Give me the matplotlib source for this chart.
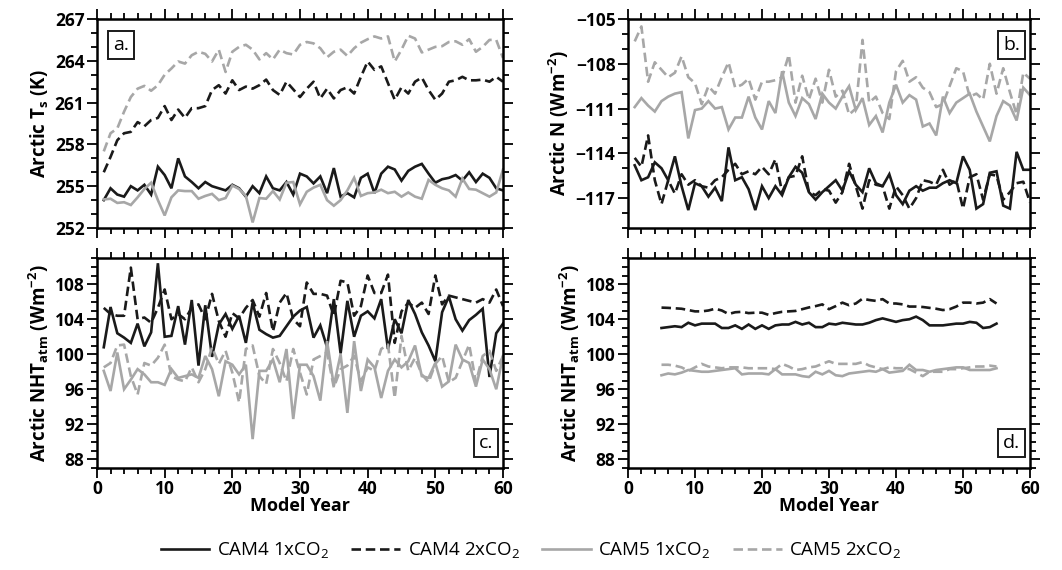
import matplotlib
matplotlib.use("Agg")
import matplotlib.pyplot as plt
from matplotlib.ticker import MultipleLocator
import numpy as np

plt.rcParams['font.family'] = ['Open Sans', 'DejaVu Sans']
plt.rcParams['mathtext.fontset'] = 'custom'
plt.rcParams['mathtext.rm'] = 'Open Sans'
plt.rcParams['mathtext.bf'] = 'Open Sans:bold'

years = list(range(1, 61))
years_smooth = list(range(5, 56))

# Panel a: Arctic Ts (K)
ts_cam4_1x = [254.0, 254.85, 254.4, 254.25, 255.0, 254.7, 255.1, 254.4, 256.4, 255.8,
              254.85, 257.0, 255.7, 255.3, 254.85, 255.3, 255.0, 254.85, 254.7, 255.1,
              254.85, 254.25, 255.0, 254.5, 255.7, 254.85, 254.7, 255.3, 254.4, 255.9,
              255.7, 255.2, 255.7, 254.5, 256.3, 254.25, 254.5, 254.2, 255.6, 255.9,
              254.5, 255.9, 256.4, 256.2, 255.4, 256.1, 256.4, 256.6, 255.9, 255.25,
              255.5, 255.6, 255.8, 255.4, 256.0, 255.3, 255.9, 255.6, 254.85, 254.7]
ts_cam4_2x = [256.0, 257.1, 258.3, 258.8, 258.9, 259.6, 259.3, 259.75, 259.9, 260.75,
              259.75, 260.5, 259.9, 260.6, 260.6, 260.75, 261.9, 262.25, 261.65, 262.6,
              261.9, 262.15, 262.0, 262.25, 262.65, 261.9, 261.55, 262.5, 261.95, 261.4,
              262.0, 262.5, 261.3, 262.0, 261.3, 261.9, 262.1, 261.65, 262.85, 263.95,
              263.35, 263.6, 262.4, 261.2, 262.1, 261.65, 262.5, 262.8, 261.9, 261.2,
              261.65, 262.5, 262.6, 262.85, 262.6, 262.6, 262.65, 262.5, 262.85, 262.5]
ts_cam5_1x = [254.05, 254.1, 253.8, 253.85, 253.65, 254.2, 254.8, 255.25, 254.0, 252.9,
              254.2, 254.7, 254.65, 254.65, 254.1, 254.3, 254.45, 254.0, 254.15, 255.05,
              254.8, 254.3, 252.4, 254.15, 254.1, 254.65, 254.05, 255.25, 255.3, 253.7,
              254.6, 254.9, 255.1, 254.0, 253.6, 254.0, 254.7, 255.6, 254.3, 254.5,
              254.55, 254.75, 254.5, 254.6, 254.25, 254.55, 254.25, 254.1, 255.45, 255.1,
              254.85, 254.7, 254.25, 255.55, 254.8, 254.75, 254.5, 254.25, 254.55, 256.2]
ts_cam5_2x = [257.5, 258.8, 259.15, 260.35, 261.4, 262.0, 262.2, 261.85, 262.25, 263.0,
              263.45, 263.95, 263.8, 264.4, 264.65, 264.5, 263.95, 264.8, 263.2, 264.65,
              265.0, 265.15, 264.8, 264.1, 264.55, 264.1, 264.8, 264.55, 264.45, 265.15,
              265.35, 265.25, 264.9, 264.25, 264.65, 264.8, 264.35, 264.9, 265.3, 265.55,
              265.75, 265.6, 265.75, 263.95, 264.8, 265.8, 265.6, 264.6, 264.8, 265.0,
              265.05, 265.35, 265.4, 265.15, 265.55, 264.65, 265.0, 265.5, 265.5, 264.2]

# Panel b: Arctic N (W m-2)
n_cam4_1x = [-114.8, -115.8, -115.6, -114.6, -115.0, -115.8, -114.2, -116.2, -117.8, -116.0,
             -116.2, -116.9, -116.3, -117.2, -113.6, -115.8, -115.6, -116.4, -117.8, -116.2,
             -117.0, -116.2, -116.8, -115.6, -114.9, -115.3, -116.6, -117.1, -116.6, -116.2,
             -115.8, -116.5, -115.2, -116.1, -116.6, -115.0, -116.0, -116.2, -115.4, -116.8,
             -117.4, -116.5, -116.2, -116.5, -116.3, -116.3, -116.0, -115.8, -116.0, -114.2,
             -115.1, -117.7, -117.4, -115.3, -115.2, -117.5, -117.7, -113.9, -115.1, -115.1]
n_cam4_2x = [-114.3, -114.9, -112.8, -115.8, -117.4, -115.8, -116.7, -115.4, -116.1, -115.8,
             -116.2, -116.3, -115.8, -115.6, -115.1, -114.7, -115.4, -115.2, -115.4, -114.9,
             -115.4, -114.4, -116.6, -115.6, -115.5, -114.2, -116.6, -116.8, -116.4, -116.5,
             -117.3, -116.6, -114.7, -116.2, -117.7, -115.8, -116.1, -116.2, -117.7, -116.2,
             -116.8, -117.7, -117.0, -115.8, -115.9, -116.1, -115.1, -116.1, -115.8, -117.7,
             -115.6, -115.4, -117.1, -115.4, -115.5, -117.1, -116.6, -116.0, -115.9, -117.3]
n_cam5_1x = [-110.9, -110.3, -110.8, -111.2, -110.5, -110.2, -110.0, -109.9, -113.0, -111.1,
             -111.0, -110.5, -111.0, -110.9, -112.4, -111.6, -111.6, -110.2, -111.6, -112.4,
             -110.5, -111.3, -108.5, -110.6, -111.5, -110.3, -110.7, -111.7, -110.0, -110.6,
             -111.0, -110.2, -109.5, -111.1, -110.3, -112.1, -111.5, -112.6, -110.6, -109.4,
             -110.6, -110.1, -110.4, -112.2, -112.0, -112.8, -110.2, -111.3, -110.6, -110.3,
             -110.0, -111.2, -112.2, -113.2, -111.5, -110.5, -110.8, -111.8, -109.6, -110.1]
n_cam5_2x = [-106.5, -105.5, -109.2, -107.9, -108.4, -108.9, -108.6, -107.5, -108.9, -109.3,
             -110.7, -109.5, -110.0, -108.9, -107.9, -109.6, -109.4, -109.0, -110.4, -109.2,
             -109.2, -109.1, -108.9, -107.4, -110.6, -108.8, -110.4, -109.0, -110.6, -108.4,
             -110.2, -109.8, -111.4, -111.0, -106.4, -110.6, -110.2, -111.3, -111.7, -108.5,
             -107.8, -109.2, -108.9, -109.6, -109.9, -110.9, -110.7, -109.5, -108.3, -108.5,
             -110.2, -110.0, -110.4, -108.0, -110.0, -108.3, -109.9, -111.4, -108.6, -109.0]

# Panel c: Arctic NHT_atm (W m-2), annual
nht_cam4_1x = [100.8, 105.4, 102.4, 101.9, 101.3, 103.5, 100.9, 102.5, 110.4, 102.0,
               102.1, 105.5, 101.1, 106.2, 98.7, 105.6, 99.7, 103.4, 104.6, 102.9,
               104.4, 101.3, 105.9, 102.8, 102.3, 101.9, 102.1, 103.2, 104.3, 105.0,
               105.4, 101.9, 103.3, 100.8, 106.3, 100.1, 106.1, 102.0, 104.4, 104.9,
               104.1, 106.3, 100.6, 104.0, 102.4, 106.2, 104.6, 102.5, 101.0, 99.2,
               104.8, 106.6, 104.0, 102.7, 103.9, 104.5, 105.2, 97.4, 102.4, 103.5]
nht_cam4_2x = [105.3, 104.6, 104.4, 104.4, 109.9, 104.0, 104.2, 103.6, 105.3, 107.4,
               104.0, 104.6, 104.0, 105.3, 105.7, 104.0, 106.9, 103.8, 102.0, 104.7,
               104.1, 105.3, 106.2, 104.3, 107.0, 102.6, 105.9, 107.0, 104.0, 103.2,
               108.2, 106.9, 106.9, 106.7, 104.4, 108.4, 108.2, 104.4, 105.5, 109.0,
               107.0, 107.0, 109.1, 101.3, 104.9, 105.9, 105.3, 105.9, 104.6, 109.0,
               105.7, 106.7, 106.5, 106.3, 106.1, 105.9, 106.3, 105.9, 107.4, 105.5]
nht_cam5_1x = [98.1, 95.8, 100.2, 96.0, 97.1, 98.3, 97.7, 96.8, 96.8, 96.5,
               98.3, 97.3, 97.5, 97.7, 97.3, 99.8, 98.3, 95.2, 99.2, 98.8,
               97.7, 98.8, 90.3, 98.1, 98.1, 99.4, 96.8, 100.6, 92.6, 98.8,
               98.8, 97.5, 94.7, 101.5, 96.4, 100.0, 93.3, 101.5, 95.8, 99.4,
               98.5, 95.0, 98.1, 99.4, 98.5, 99.2, 101.0, 97.5, 97.3, 99.0,
               96.3, 96.9, 101.1, 99.4, 99.0, 96.3, 99.4, 98.3, 96.0, 99.8]
nht_cam5_2x = [98.5, 99.0, 101.0, 101.1, 97.5, 95.4, 99.0, 98.7, 99.6, 101.1,
               97.5, 97.1, 96.9, 98.5, 96.8, 98.3, 100.8, 98.9, 100.4, 97.9,
               94.5, 100.6, 101.0, 97.5, 96.6, 100.6, 99.0, 96.9, 100.6, 97.9,
               95.4, 99.4, 99.8, 100.2, 96.2, 98.3, 98.7, 99.8, 96.9, 98.5,
               98.1, 100.6, 101.1, 95.0, 102.1, 98.1, 99.6, 97.7, 96.8, 98.9,
               99.8, 96.8, 97.3, 99.2, 101.1, 96.8, 99.8, 100.4, 98.1, 99.8]

# Panel d: Arctic NHT_atm, smoothed (years 5-55)
nhts_cam4_1x = [103.0, 103.1, 103.2, 103.1, 103.6, 103.3, 103.5, 103.5, 103.5, 103.0,
                103.0, 103.3, 102.9, 103.4, 102.9, 103.3, 102.9, 103.3, 103.4, 103.4,
                103.7, 103.4, 103.6, 103.1, 103.1, 103.5, 103.4, 103.6, 103.5, 103.4,
                103.4, 103.6, 103.9, 104.1, 103.9, 103.7, 103.9, 104.0, 104.3, 103.9,
                103.3, 103.3, 103.3, 103.4, 103.5, 103.5, 103.7, 103.6, 103.0, 103.1, 103.5]
nhts_cam4_2x = [105.33, 105.3, 105.25, 105.2, 105.05, 104.9, 104.9, 105.0, 105.2, 105.0,
                104.6, 104.8, 104.85, 104.7, 104.75, 104.75, 104.5, 104.7, 104.85, 104.9,
                104.95, 105.15, 105.35, 105.5, 105.7, 105.15, 105.5, 105.9, 105.6, 105.8,
                106.35, 106.2, 106.1, 106.3, 105.8, 105.8, 105.7, 105.45, 105.45, 105.4,
                105.3, 105.2, 105.05, 105.15, 105.45, 105.9, 105.9, 105.8, 105.9, 106.3, 105.8]
nhts_cam5_1x = [97.6, 97.8, 97.7, 97.9, 98.2, 98.1, 98.0, 98.0, 98.1, 98.2,
                98.3, 98.4, 97.7, 97.8, 97.8, 97.8, 97.7, 98.3, 97.7, 97.7,
                97.7, 97.5, 97.4, 98.0, 97.7, 98.1, 97.6, 97.5, 97.8, 97.9,
                98.0, 98.1, 98.0, 98.3, 97.9, 98.0, 98.1, 98.8, 98.2, 98.2,
                98.0, 98.2, 98.3, 98.4, 98.5, 98.5, 98.2, 98.2, 98.2, 98.2, 98.4]
nhts_cam5_2x = [98.8, 98.8, 98.7, 98.5, 98.1, 98.5, 98.9, 98.6, 98.5, 98.4,
                98.5, 98.5, 98.5, 98.4, 98.4, 98.4, 98.4, 98.3, 98.9, 98.6,
                98.2, 98.3, 98.5, 98.6, 98.9, 99.2, 98.9, 98.9, 98.9, 98.9,
                99.1, 98.7, 98.5, 98.3, 98.5, 98.4, 98.4, 98.3, 97.9, 97.5,
                98.0, 98.0, 98.0, 98.3, 98.3, 98.4, 98.5, 98.6, 98.6, 98.7, 98.6]

series_labels = ['CAM4 1xCO$_2$', 'CAM4 2xCO$_2$', 'CAM5 1xCO$_2$', 'CAM5 2xCO$_2$']

BLACK = '#1a1a1a'
GRAY = '#a7a7a7'
DASH = (0, (3.6, 1.8))
styles = [dict(color=BLACK, ls='-'), dict(color=BLACK, ls=DASH),
          dict(color=GRAY, ls='-'), dict(color=GRAY, ls=DASH)]
LW = 1.9

fig = plt.figure(figsize=(10.62, 5.70), dpi=100)
W, H = 1062.0, 570.0

def make_ax(l, r, t, b):
    return fig.add_axes([l / W, 1 - b / H, (r - l) / W, (b - t) / H])

axa = make_ax(97, 503, 19, 228)
axb = make_ax(628, 1030, 19, 228)
axc = make_ax(97, 503, 258, 468)
axd = make_ax(628, 1030, 258, 468)

panels = [
    (axa, years, [ts_cam4_1x, ts_cam4_2x, ts_cam5_1x, ts_cam5_2x], (252, 267), 3,
     'Arctic T$_\\mathregular{s}$ (K)', 'a.', 'tl'),
    (axb, years, [n_cam4_1x, n_cam4_2x, n_cam5_1x, n_cam5_2x], (-119, -105), 3,
     'Arctic N (Wm$^{\\mathregular{-2}}$)', 'b.', 'tr'),
    (axc, years, [nht_cam4_1x, nht_cam4_2x, nht_cam5_1x, nht_cam5_2x], (87, 111), 4,
     'Arctic NHT$_\\mathregular{atm}$ (Wm$^{\\mathregular{-2}}$)', 'c.', 'br'),
    (axd, years_smooth, [nhts_cam4_1x, nhts_cam4_2x, nhts_cam5_1x, nhts_cam5_2x], (87, 111), 4,
     'Arctic NHT$_\\mathregular{atm}$ (Wm$^{\\mathregular{-2}}$)', 'd.', 'br'),
]

handles = None
for ax, xs, ys_list, ylim, ystep, ylabel, tag, pos in panels:
    hs = []
    for ys, st, lab in zip(ys_list, styles, series_labels):
        h, = ax.plot(xs, ys, lw=LW, label=lab, solid_joinstyle='miter', **st)
        hs.append(h)
    if handles is None:
        handles = hs
    ax.set_xlim(0, 60)
    ax.set_ylim(*ylim)
    ax.xaxis.set_major_locator(MultipleLocator(10))
    ax.xaxis.set_minor_locator(MultipleLocator(2))
    if tag in ('a.', 'b.'):
        ax.yaxis.set_major_locator(MultipleLocator(ystep))
    else:
        ax.set_yticks(list(range(88, 111, 4)))
    ax.yaxis.set_minor_locator(MultipleLocator(1))
    ax.tick_params(which='both', direction='out', top=True, right=True, width=1.3,
                   labelsize=12.5, pad=2)
    ax.tick_params(which='major', length=7)
    ax.tick_params(which='minor', length=4.5)
    for lab in ax.get_yticklabels() + ax.get_xticklabels():
        lab.set_fontweight('bold')
    for s in ax.spines.values():
        s.set_linewidth(1.8)
    ax.set_ylabel(ylabel, fontsize=13.5, fontweight='bold', labelpad=3)
    if tag in ('a.', 'b.'):
        ax.tick_params(labelbottom=False)
    else:
        ax.set_xlabel('Model Year', fontsize=13, fontweight='bold', labelpad=-1)
    if pos == 'tl':
        tx, ty, ha, va = 0.04, 0.92, 'left', 'top'
    elif pos == 'tr':
        tx, ty, ha, va = 0.975, 0.92, 'right', 'top'
    else:
        tx, ty, ha, va = 0.975, 0.075, 'right', 'bottom'
    ax.text(tx, ty, tag, transform=ax.transAxes, ha=ha, va=va, fontsize=14,
            bbox=dict(boxstyle='square,pad=0.25', fc='white', ec=BLACK, lw=1.4))

fig.legend(handles, series_labels, loc='center', bbox_to_anchor=(0.5, 1 - 551 / H),
           ncol=4, frameon=False, fontsize=13.5, handlelength=2.6, columnspacing=1.2,
           handletextpad=0.4)

fig.savefig('out.png', dpi=100)
